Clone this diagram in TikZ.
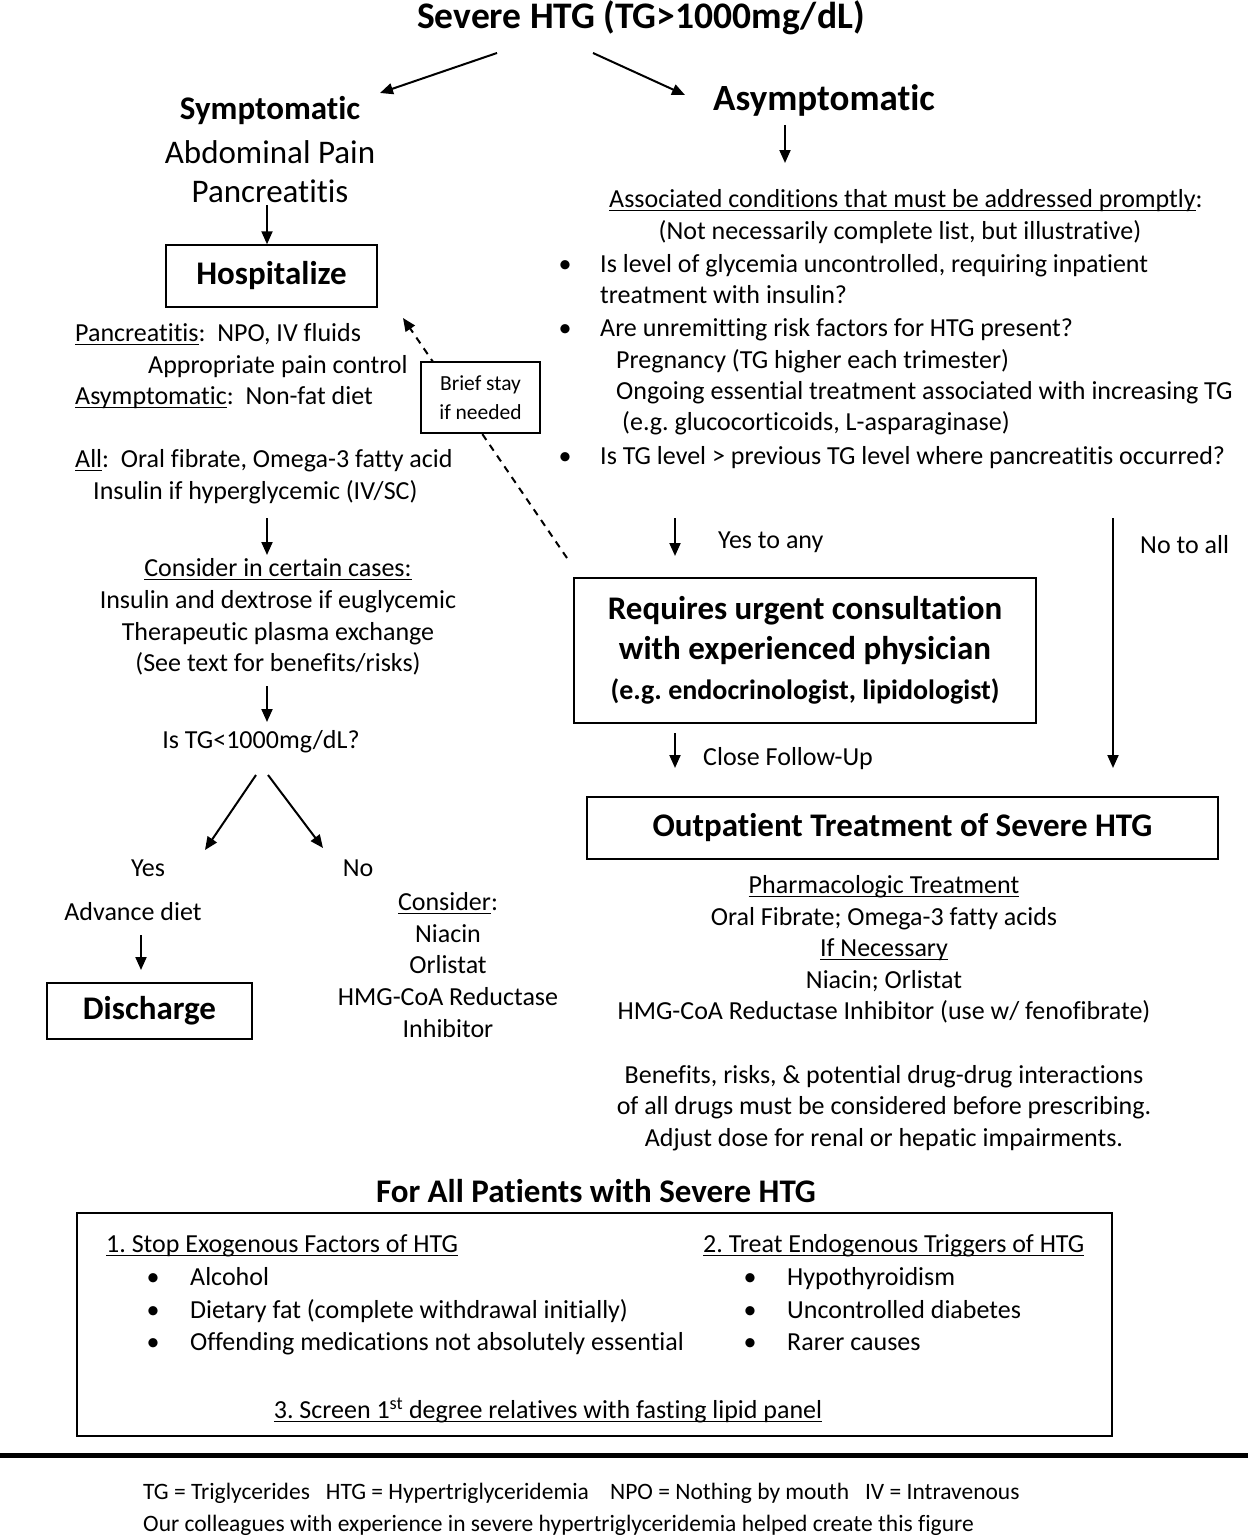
\documentclass[tikz,border=0pt]{standalone}
\usepackage{fontspec}
\setmainfont{Carlito}[Ligatures=NoCommon]
\usetikzlibrary{arrows.meta}
\frenchspacing

% underline that runs just under the baseline, as in the figure
\newcommand\ulword[1]{\setbox0\hbox{#1}\rlap{\rule[-3.5pt]{\wd0}{1.4pt}}\box0}

\tikzset{
  txt/.style={inner sep=0pt, font=\fontsize{26}{31.6}\selectfont},
  line/.style={txt, text height=24pt, text depth=6.5pt},
  bigtxt/.style={inner sep=0pt, font=\fontsize{33}{40}\selectfont},
  head/.style={inner sep=0pt, font=\bfseries\fontsize{33}{40}\selectfont},
  framebox/.style={draw, line width=1.4pt, inner sep=0pt},
  arr/.style={-{Triangle[length=13pt,width=11pt]}, line width=2pt},
}

\begin{document}
\begin{tikzpicture}[x=1pt, y=-1pt]
\useasboundingbox (0,0) rectangle (1248,1536);

% title and the two branches
\node[head, font=\bfseries\fontsize{37.5}{40}\selectfont] (severe) at (641,18) {Severe HTG (TG>1000mg/dL)};
\node[head] (sympt) at (270,111) {Symptomatic};
\node[bigtxt] (abdo) at (270,152) {Abdominal Pain};
\node[bigtxt] (pancr) at (270,191) {Pancreatitis};
\node[head, font=\bfseries\fontsize{37}{40}\selectfont] (asympt) at (824,100) {Asymptomatic};

\coordinate (sevL) at (497,53);
\coordinate (sevR) at (593,53);
\coordinate (symTop) at (380,93);
\coordinate (asyTop) at (685,95);
\draw[arr] (sevL) -- (symTop);
\draw[arr] (sevR) -- (asyTop);

% left column
\node[framebox, minimum width=211pt, minimum height=62pt, font=\bfseries\fontsize{33}{40}\selectfont] (hosp) at (271.5,276) {Hospitalize};
\coordinate (pancS) at (267,205);
\draw[arr] (pancS) -- (pancS |- hosp.north);

\node[line, anchor=west] (npo) at (75,333) {\ulword{Pancreatitis}:\ \ NPO, IV fluids};
\node[line, anchor=west] (pain) at (148,365) {Appropriate pain control};
\node[line, anchor=west] (nonfat) at (75,396) {\ulword{Asymptomatic}:\ \ Non-fat diet};
\node[line, anchor=west] (allrx) at (75,459) {\ulword{All}:\ \ Oral fibrate, Omega-3 fatty acid};
\node[line, anchor=west] (insul) at (93,491) {Insulin if hyperglycemic (IV/SC)};

\coordinate (a1s) at (267,518);
\coordinate (a1e) at (267,555);
\draw[arr] (a1s) -- (a1e);

\node[txt, align=center] (certain) at (278,617) {\ulword{Consider in certain cases:}\\Insulin and dextrose if euglycemic\\Therapeutic plasma exchange\\(See text for benefits/risks)};

\coordinate (a2s) at (267,686);
\coordinate (a2e) at (267,722);
\draw[arr] (a2s) -- (a2e);

\node[line] (istg) at (261,740) {Is TG<1000mg/dL?};
\coordinate (yesS) at (256,775);
\coordinate (noS) at (268,775);
\coordinate (yesEnd) at (205,850);
\coordinate (noEnd) at (323,848);
\draw[arr] (yesS) -- (yesEnd);
\draw[arr] (noS) -- (noEnd);

\node[line] (yes) at (148,868) {Yes};
\node[line] (no) at (358,868) {No};
\node[line] (advance) at (133,912) {Advance diet};
\node[framebox, minimum width=205pt, minimum height=56pt, font=\bfseries\fontsize{33}{40}\selectfont] (disch) at (149.5,1011) {Discharge};
\coordinate (advS) at (141,935);
\coordinate (advE) at (141,970);
\draw[arr] (advS) -- (advE);

\node[txt, align=center] (optns) at (448,965) {\ulword{Consider}:\\Niacin\\Orlistat\\HMG-CoA Reductase\\Inhibitor};

% dashed way back to hospital
\coordinate (dashS) at (567,558);
\coordinate (dashE) at (403,318);
\draw[arr, dash pattern=on 7pt off 6pt] (dashS) -- (dashE);
\node[framebox, fill=white, minimum width=119pt, minimum height=71pt, align=center, font=\fontsize{21.5}{29}\selectfont] (brief) at (480.5,397.5) {Brief stay\\if needed};

% right column
\coordinate (asyS) at (785,125);
\coordinate (asyE) at (785,163);
\draw[arr] (asyS) -- (asyE);

\node[line, anchor=west] (assoc) at (609,199) {\ulword{Associated conditions that must be addressed promptly}:};
\node[line] (notnec) at (900,231) {(Not necessarily complete list, but illustrative)};
\node[line] (b1) at (565,264) {\textbullet};
\node[line, anchor=west] (glyc) at (600,264) {Is level of glycemia uncontrolled, requiring inpatient};
\node[line, anchor=west] (glyc2) at (600,295) {treatment with insulin?};
\node[line] (b2) at (565,328) {\textbullet};
\node[line, anchor=west] (unrem) at (600,328) {Are unremitting risk factors for HTG present?};
\node[line, anchor=west] (preg) at (616,360) {Pregnancy (TG higher each trimester)};
\node[line, anchor=west] (ongo) at (616,391) {Ongoing essential treatment associated with increasing TG};
\node[line, anchor=west] (gluco) at (622,422) {(e.g. glucocorticoids, L-asparaginase)};
\node[line] (b3) at (565,456) {\textbullet};
\node[line, anchor=west] (prev) at (600,456) {Is TG level > previous TG level where pancreatitis occurred?};

\coordinate (yaS) at (675,518);
\coordinate (yaE) at (675,556);
\draw[arr] (yaS) -- (yaE);
\node[line, anchor=west] (yesany) at (718,540) {Yes to any};
\coordinate (naS) at (1113,518);
\coordinate (naE) at (1113,768);
\draw[arr] (naS) -- (naE);
\node[line, anchor=west] (noall) at (1140,545) {No to all};

\node[framebox, minimum width=462pt, minimum height=145pt, align=center, font=\bfseries\fontsize{33}{40}\selectfont] (urgent) at (805,650.5) {Requires urgent consultation\\with experienced physician\\{\fontsize{28}{36}\selectfont (e.g. endocrinologist, lipidologist)}};

\coordinate (cfS) at (675,733);
\coordinate (cfE) at (675,768);
\draw[arr] (cfS) -- (cfE);
\node[line, anchor=west] (follow) at (703,757) {Close Follow-Up};

\node[framebox, minimum width=631pt, minimum height=62pt, font=\bfseries\fontsize{33}{40}\selectfont] (outpt) at (902.5,828) {Outpatient Treatment of Severe HTG};

\node[txt, align=center] (pharm) at (884,949.5) {\ulword{Pharmacologic Treatment}\\Oral Fibrate; Omega-3 fatty acids\\\ulword{If Necessary}\\Niacin; Orlistat\\HMG-CoA Reductase Inhibitor (use w/ fenofibrate)};
\node[txt, align=center] (benef) at (884,1108) {Benefits, risks, \& potential drug-drug interactions\\of all drugs must be considered before prescribing.\\Adjust dose for renal or hepatic impairments.};

% for all patients
\node[head] (forall) at (596,1191) {For All Patients with Severe HTG};
\node[framebox, minimum width=1035pt, minimum height=223pt] (allbox) at (594.5,1324.5) {};

\node[line, anchor=west] (stop) at (106,1244) {\ulword{1. Stop Exogenous Factors of HTG}};
\node[line] (sb1) at (153,1277) {\textbullet};
\node[line, anchor=west] (alc) at (190,1277) {Alcohol};
\node[line] (sb2) at (153,1310) {\textbullet};
\node[line, anchor=west] (fat) at (190,1310) {Dietary fat (complete withdrawal initially)};
\node[line] (sb3) at (153,1342) {\textbullet};
\node[line, anchor=west] (meds) at (190,1342) {Offending medications not absolutely essential};

\node[line, anchor=west] (treat) at (703,1244) {\ulword{2. Treat Endogenous Triggers of HTG}};
\node[line] (tb1) at (750,1277) {\textbullet};
\node[line, anchor=west] (thyr) at (787,1277) {Hypothyroidism};
\node[line] (tb2) at (750,1310) {\textbullet};
\node[line, anchor=west] (diab) at (787,1310) {Uncontrolled diabetes};
\node[line] (tb3) at (750,1342) {\textbullet};
\node[line, anchor=west] (rare) at (787,1342) {Rarer causes};

\node[line] (screen) at (548,1410) {\ulword{3. Screen 1\textsuperscript{st} degree relatives with fasting lipid panel}};

% footer
\draw[line width=5pt] (0,1455) -- (1248,1455);
\node[txt, anchor=west, font=\fontsize{23.5}{30}\selectfont] (abbr) at (143,1493) {TG = Triglycerides\ \ \ HTG = Hypertriglyceridemia\ \ \ \ NPO = Nothing by mouth\ \ \ IV = Intravenous};
\node[txt, anchor=west, font=\fontsize{23.5}{30}\selectfont] (thanks) at (143,1525) {Our colleagues with experience in severe hypertriglyceridemia helped create this figure};
\end{tikzpicture}
\end{document}
